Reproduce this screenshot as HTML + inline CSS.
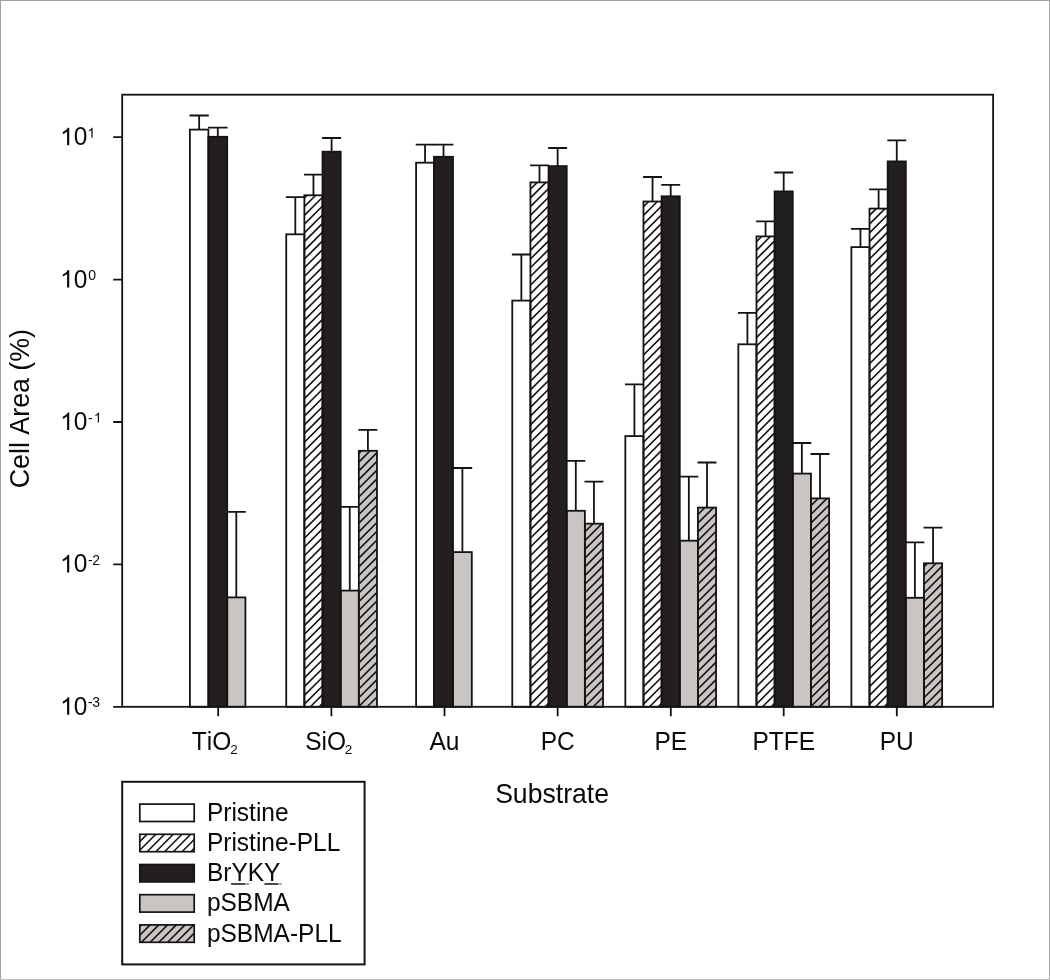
<!DOCTYPE html>
<html><head><meta charset="utf-8"><style>
html,body{margin:0;padding:0;background:#fff;}
body{width:1050px;height:980px;overflow:hidden;font-family:"Liberation Sans",sans-serif;}
svg{display:block;will-change:transform;}
text{font-kerning:none;}
</style></head><body>
<svg width="1050" height="980" viewBox="0 0 1050 980">
<defs>

</defs>
<rect width="1050" height="980" fill="#fff"/><rect x="0" y="0" width="1050" height="1" fill="#a0a0a0"/><rect x="0" y="0" width="1" height="980" fill="#a0a0a0"/><rect x="1049" y="0" width="1" height="980" fill="#a3a3a3"/><rect x="0" y="979" width="1050" height="1" fill="#c0c0c0"/>
<g fill="none" stroke="#151213" stroke-width="1.8"><path d="M199.15 129.6V115.5M189.5 115.5H208.8"/><path d="M217.8 136.8V127.6M208 127.6H227.6"/><path d="M236.3 597.4V511.9M226.8 511.9H245.8"/><path d="M295.3 234.3V197.1M285.83 197.1H304.77"/><path d="M313.45 195.3V174.7M303.98 174.7H322.93"/><path d="M331.6 151.7V138M322.13 138H341.07"/><path d="M349.75 590.6V506.9M340.28 506.9H359.23"/><path d="M367.9 450.8V429.8M358.43 429.8H377.38"/><path d="M425.05 162.7V144.7M415.7 144.7H434.4"/><path d="M443.5 156.8V144.7M433.6 144.7H453.4"/><path d="M462.4 552.1V468M452.6 468H472.2"/><path d="M521.35 300.6V254.5M511.88 254.5H530.82"/><path d="M539.5 182.4V165.3M530.02 165.3H548.97"/><path d="M557.65 166.1V148M548.17 148H567.12"/><path d="M575.8 510.8V460.8M566.33 460.8H585.27"/><path d="M593.95 523.7V481.7M584.48 481.7H603.42"/><path d="M634.4 436.1V384.4M624.93 384.4H643.88"/><path d="M652.55 201.5V177M643.08 177H662.02"/><path d="M670.7 196.3V184.9M661.23 184.9H680.18"/><path d="M688.85 540.7V476.7M679.38 476.7H698.33"/><path d="M707 507.6V462.5M697.53 462.5H716.48"/><path d="M747.4 344.3V312.8M737.93 312.8H756.88"/><path d="M765.55 236.4V221.4M756.08 221.4H775.02"/><path d="M783.7 191.4V172.5M774.23 172.5H793.18"/><path d="M801.85 473.6V443M792.38 443H811.33"/><path d="M820 498.4V454M810.53 454H829.48"/><path d="M860.45 247.1V228.9M850.98 228.9H869.92"/><path d="M878.6 208.6V189.3M869.12 189.3H888.07"/><path d="M896.75 161.4V140.4M887.27 140.4H906.23"/><path d="M914.9 597.8V542.4M905.43 542.4H924.38"/><path d="M933.05 563.3V527.6M923.58 527.6H942.52"/></g>
<g><rect x="189.9" y="129.6" width="18.5" height="577.2" fill="#ffffff"/><rect x="208.4" y="136.8" width="18.8" height="570" fill="#231f20"/><rect x="227.2" y="597.4" width="18.2" height="109.4" fill="#c9c5c3"/><rect x="286.23" y="234.3" width="18.15" height="472.5" fill="#ffffff"/><rect x="304.38" y="195.3" width="18.15" height="511.5" fill="#fff"/><rect x="322.53" y="151.7" width="18.15" height="555.1" fill="#231f20"/><rect x="340.68" y="590.6" width="18.15" height="116.2" fill="#c9c5c3"/><rect x="358.83" y="450.8" width="18.15" height="256" fill="#c9c5c3"/><rect x="416.1" y="162.7" width="17.9" height="544.1" fill="#ffffff"/><rect x="434" y="156.8" width="19" height="550" fill="#231f20"/><rect x="453" y="552.1" width="18.8" height="154.7" fill="#c9c5c3"/><rect x="512.27" y="300.6" width="18.15" height="406.2" fill="#ffffff"/><rect x="530.42" y="182.4" width="18.15" height="524.4" fill="#fff"/><rect x="548.57" y="166.1" width="18.15" height="540.7" fill="#231f20"/><rect x="566.73" y="510.8" width="18.15" height="196" fill="#c9c5c3"/><rect x="584.88" y="523.7" width="18.15" height="183.1" fill="#c9c5c3"/><rect x="625.33" y="436.1" width="18.15" height="270.7" fill="#ffffff"/><rect x="643.48" y="201.5" width="18.15" height="505.3" fill="#fff"/><rect x="661.62" y="196.3" width="18.15" height="510.5" fill="#231f20"/><rect x="679.78" y="540.7" width="18.15" height="166.1" fill="#c9c5c3"/><rect x="697.93" y="507.6" width="18.15" height="199.2" fill="#c9c5c3"/><rect x="738.33" y="344.3" width="18.15" height="362.5" fill="#ffffff"/><rect x="756.48" y="236.4" width="18.15" height="470.4" fill="#fff"/><rect x="774.62" y="191.4" width="18.15" height="515.4" fill="#231f20"/><rect x="792.78" y="473.6" width="18.15" height="233.2" fill="#c9c5c3"/><rect x="810.93" y="498.4" width="18.15" height="208.4" fill="#c9c5c3"/><rect x="851.38" y="247.1" width="18.15" height="459.7" fill="#ffffff"/><rect x="869.52" y="208.6" width="18.15" height="498.2" fill="#fff"/><rect x="887.67" y="161.4" width="18.15" height="545.4" fill="#231f20"/><rect x="905.83" y="597.8" width="18.15" height="109" fill="#c9c5c3"/><rect x="923.98" y="563.3" width="18.15" height="143.5" fill="#c9c5c3"/></g>
<g><rect x="139.8" y="804.1" width="54.4" height="17.4" fill="#ffffff"/><rect x="139.8" y="834.3" width="54.4" height="17.4" fill="#fff"/><rect x="139.8" y="864.5" width="54.4" height="17.4" fill="#231f20"/><rect x="139.8" y="894.7" width="54.4" height="17.4" fill="#c9c5c3"/><rect x="139.8" y="924.9" width="54.4" height="17.4" fill="#c9c5c3"/></g>
<path d="M304.38 197.94L307.02 195.30M304.38 206.67L315.75 195.30M304.38 215.40L322.53 197.25M304.38 224.12L322.53 205.97M304.38 232.85L322.53 214.70M304.38 241.58L322.53 223.43M304.38 250.31L322.53 232.16M304.38 259.03L322.53 240.88M304.38 267.76L322.53 249.61M304.38 276.49L322.53 258.34M304.38 285.21L322.53 267.06M304.38 293.94L322.53 275.79M304.38 302.67L322.53 284.52M304.38 311.39L322.53 293.24M304.38 320.12L322.53 301.97M304.38 328.85L322.53 310.70M304.38 337.58L322.53 319.43M304.38 346.30L322.53 328.15M304.38 355.03L322.53 336.88M304.38 363.76L322.53 345.61M304.38 372.48L322.53 354.33M304.38 381.21L322.53 363.06M304.38 389.94L322.53 371.79M304.38 398.66L322.53 380.51M304.38 407.39L322.53 389.24M304.38 416.12L322.53 397.97M304.38 424.85L322.53 406.70M304.38 433.57L322.53 415.42M304.38 442.30L322.53 424.15M304.38 451.03L322.53 432.88M304.38 459.75L322.53 441.60M304.38 468.48L322.53 450.33M304.38 477.21L322.53 459.06M304.38 485.93L322.53 467.78M304.38 494.66L322.53 476.51M304.38 503.39L322.53 485.24M304.38 512.12L322.53 493.97M304.38 520.84L322.53 502.69M304.38 529.57L322.53 511.42M304.38 538.30L322.53 520.15M304.38 547.02L322.53 528.87M304.38 555.75L322.53 537.60M304.38 564.48L322.53 546.33M304.38 573.20L322.53 555.05M304.38 581.93L322.53 563.78M304.38 590.66L322.53 572.51M304.38 599.39L322.53 581.24M304.38 608.11L322.53 589.96M304.38 616.84L322.53 598.69M304.38 625.57L322.53 607.42M304.38 634.29L322.53 616.14M304.38 643.02L322.53 624.87M304.38 651.75L322.53 633.60M304.38 660.47L322.53 642.32M304.38 669.20L322.53 651.05M304.38 677.93L322.53 659.78M304.38 686.66L322.53 668.51M304.38 695.38L322.53 677.23M304.38 704.11L322.53 685.96M310.41 706.80L322.53 694.69M319.14 706.80L322.53 703.41M358.83 453.38L361.40 450.80M358.83 462.10L370.13 450.80M358.83 470.83L376.98 452.68M358.83 479.56L376.98 461.41M358.83 488.28L376.98 470.13M358.83 497.01L376.98 478.86M358.83 505.74L376.98 487.59M358.83 514.47L376.98 496.32M358.83 523.19L376.98 505.04M358.83 531.92L376.98 513.77M358.83 540.65L376.98 522.50M358.83 549.37L376.98 531.22M358.83 558.10L376.98 539.95M358.83 566.83L376.98 548.68M358.83 575.55L376.98 557.40M358.83 584.28L376.98 566.13M358.83 593.01L376.98 574.86M358.83 601.74L376.98 583.59M358.83 610.46L376.98 592.31M358.83 619.19L376.98 601.04M358.83 627.92L376.98 609.77M358.83 636.64L376.98 618.49M358.83 645.37L376.98 627.22M358.83 654.10L376.98 635.95M358.83 662.82L376.98 644.67M358.83 671.55L376.98 653.40M358.83 680.28L376.98 662.13M358.83 689.01L376.98 670.86M358.83 697.73L376.98 679.58M358.83 706.46L376.98 688.31M367.21 706.80L376.98 697.04M375.94 706.80L376.98 705.76M530.42 189.22L537.24 182.40M530.42 197.94L545.97 182.40M530.42 206.67L548.57 188.52M530.42 215.40L548.57 197.25M530.42 224.12L548.57 205.98M530.42 232.85L548.57 214.70M530.42 241.58L548.57 223.43M530.42 250.31L548.57 232.16M530.42 259.03L548.57 240.88M530.42 267.76L548.57 249.61M530.42 276.49L548.57 258.34M530.42 285.21L548.57 267.06M530.42 293.94L548.57 275.79M530.42 302.67L548.57 284.52M530.42 311.39L548.57 293.24M530.42 320.12L548.57 301.97M530.42 328.85L548.57 310.70M530.42 337.58L548.57 319.43M530.42 346.30L548.57 328.15M530.42 355.03L548.57 336.88M530.42 363.76L548.57 345.61M530.42 372.48L548.57 354.33M530.42 381.21L548.57 363.06M530.42 389.94L548.57 371.79M530.42 398.66L548.57 380.51M530.42 407.39L548.57 389.24M530.42 416.12L548.57 397.97M530.42 424.85L548.57 406.70M530.42 433.57L548.57 415.42M530.42 442.30L548.57 424.15M530.42 451.03L548.57 432.88M530.42 459.75L548.57 441.60M530.42 468.48L548.57 450.33M530.42 477.21L548.57 459.06M530.42 485.93L548.57 467.78M530.42 494.66L548.57 476.51M530.42 503.39L548.57 485.24M530.42 512.12L548.57 493.97M530.42 520.84L548.57 502.69M530.42 529.57L548.57 511.42M530.42 538.30L548.57 520.15M530.42 547.02L548.57 528.87M530.42 555.75L548.57 537.60M530.42 564.48L548.57 546.33M530.42 573.21L548.57 555.06M530.42 581.93L548.57 563.78M530.42 590.66L548.57 572.51M530.42 599.39L548.57 581.24M530.42 608.11L548.57 589.96M530.42 616.84L548.57 598.69M530.42 625.57L548.57 607.42M530.42 634.29L548.57 616.14M530.42 643.02L548.57 624.87M530.42 651.75L548.57 633.60M530.42 660.48L548.57 642.33M530.42 669.20L548.57 651.05M530.42 677.93L548.57 659.78M530.42 686.66L548.57 668.51M530.42 695.38L548.57 677.23M530.42 704.11L548.57 685.96M536.46 706.80L548.57 694.69M545.19 706.80L548.57 703.41M584.88 531.92L593.10 523.70M584.88 540.65L601.82 523.70M584.88 549.37L603.02 531.22M584.88 558.10L603.02 539.95M584.88 566.83L603.02 548.68M584.88 575.56L603.02 557.41M584.88 584.28L603.02 566.13M584.88 593.01L603.02 574.86M584.88 601.74L603.02 583.59M584.88 610.46L603.02 592.31M584.88 619.19L603.02 601.04M584.88 627.92L603.02 609.77M584.88 636.64L603.02 618.49M584.88 645.37L603.02 627.22M584.88 654.10L603.02 635.95M584.88 662.83L603.02 644.68M584.88 671.55L603.02 653.40M584.88 680.28L603.02 662.13M584.88 689.01L603.02 670.86M584.88 697.73L603.02 679.58M584.88 706.46L603.02 688.31M593.26 706.80L603.02 697.04M601.99 706.80L603.02 705.76M643.48 206.67L648.65 201.50M643.48 215.40L657.37 201.50M643.48 224.12L661.62 205.98M643.48 232.85L661.62 214.70M643.48 241.58L661.62 223.43M643.48 250.31L661.62 232.16M643.48 259.03L661.62 240.88M643.48 267.76L661.62 249.61M643.48 276.49L661.62 258.34M643.48 285.21L661.62 267.06M643.48 293.94L661.62 275.79M643.48 302.67L661.62 284.52M643.48 311.39L661.62 293.24M643.48 320.12L661.62 301.97M643.48 328.85L661.62 310.70M643.48 337.58L661.62 319.43M643.48 346.30L661.62 328.15M643.48 355.03L661.62 336.88M643.48 363.76L661.62 345.61M643.48 372.48L661.62 354.33M643.48 381.21L661.62 363.06M643.48 389.94L661.62 371.79M643.48 398.66L661.62 380.51M643.48 407.39L661.62 389.24M643.48 416.12L661.62 397.97M643.48 424.85L661.62 406.70M643.48 433.57L661.62 415.42M643.48 442.30L661.62 424.15M643.48 451.03L661.62 432.88M643.48 459.75L661.62 441.60M643.48 468.48L661.62 450.33M643.48 477.21L661.62 459.06M643.48 485.94L661.62 467.79M643.48 494.66L661.62 476.51M643.48 503.39L661.62 485.24M643.48 512.12L661.62 493.97M643.48 520.84L661.62 502.69M643.48 529.57L661.62 511.42M643.48 538.30L661.62 520.15M643.48 547.02L661.62 528.87M643.48 555.75L661.62 537.60M643.48 564.48L661.62 546.33M643.48 573.21L661.62 555.06M643.48 581.93L661.62 563.78M643.48 590.66L661.62 572.51M643.48 599.39L661.62 581.24M643.48 608.11L661.62 589.96M643.48 616.84L661.62 598.69M643.48 625.57L661.62 607.42M643.48 634.29L661.62 616.14M643.48 643.02L661.62 624.87M643.48 651.75L661.62 633.60M643.48 660.48L661.62 642.33M643.48 669.20L661.62 651.05M643.48 677.93L661.62 659.78M643.48 686.66L661.62 668.51M643.48 695.38L661.62 677.23M643.48 704.11L661.62 685.96M649.51 706.80L661.62 694.69M658.24 706.80L661.62 703.41M697.93 514.47L704.79 507.60M697.93 523.19L713.52 507.60M697.93 531.92L716.08 513.77M697.93 540.65L716.08 522.50M697.93 549.37L716.08 531.22M697.93 558.10L716.08 539.95M697.93 566.83L716.08 548.68M697.93 575.56L716.08 557.41M697.93 584.28L716.08 566.13M697.93 593.01L716.08 574.86M697.93 601.74L716.08 583.59M697.93 610.46L716.08 592.31M697.93 619.19L716.08 601.04M697.93 627.92L716.08 609.77M697.93 636.64L716.08 618.49M697.93 645.37L716.08 627.22M697.93 654.10L716.08 635.95M697.93 662.83L716.08 644.68M697.93 671.55L716.08 653.40M697.93 680.28L716.08 662.13M697.93 689.01L716.08 670.86M697.93 697.73L716.08 679.58M697.93 706.46L716.08 688.31M706.31 706.80L716.08 697.04M715.04 706.80L716.08 705.76M756.48 241.58L761.65 236.40M756.48 250.31L770.38 236.40M756.48 259.03L774.62 240.88M756.48 267.76L774.62 249.61M756.48 276.49L774.62 258.34M756.48 285.21L774.62 267.06M756.48 293.94L774.62 275.79M756.48 302.67L774.62 284.52M756.48 311.40L774.62 293.25M756.48 320.12L774.62 301.97M756.48 328.85L774.62 310.70M756.48 337.58L774.62 319.43M756.48 346.30L774.62 328.15M756.48 355.03L774.62 336.88M756.48 363.76L774.62 345.61M756.48 372.48L774.62 354.33M756.48 381.21L774.62 363.06M756.48 389.94L774.62 371.79M756.48 398.67L774.62 380.52M756.48 407.39L774.62 389.24M756.48 416.12L774.62 397.97M756.48 424.85L774.62 406.70M756.48 433.57L774.62 415.42M756.48 442.30L774.62 424.15M756.48 451.03L774.62 432.88M756.48 459.75L774.62 441.60M756.48 468.48L774.62 450.33M756.48 477.21L774.62 459.06M756.48 485.94L774.62 467.79M756.48 494.66L774.62 476.51M756.48 503.39L774.62 485.24M756.48 512.12L774.62 493.97M756.48 520.84L774.62 502.69M756.48 529.57L774.62 511.42M756.48 538.30L774.62 520.15M756.48 547.02L774.62 528.87M756.48 555.75L774.62 537.60M756.48 564.48L774.62 546.33M756.48 573.21L774.62 555.06M756.48 581.93L774.62 563.78M756.48 590.66L774.62 572.51M756.48 599.39L774.62 581.24M756.48 608.11L774.62 589.96M756.48 616.84L774.62 598.69M756.48 625.57L774.62 607.42M756.48 634.29L774.62 616.14M756.48 643.02L774.62 624.87M756.48 651.75L774.62 633.60M756.48 660.48L774.62 642.33M756.48 669.20L774.62 651.05M756.48 677.93L774.62 659.78M756.48 686.66L774.62 668.51M756.48 695.38L774.62 677.23M756.48 704.11L774.62 685.96M762.51 706.80L774.62 694.69M771.24 706.80L774.62 703.41M810.93 505.74L818.26 498.40M810.93 514.47L826.99 498.40M810.93 523.19L829.08 505.04M810.93 531.92L829.08 513.77M810.93 540.65L829.08 522.50M810.93 549.37L829.08 531.22M810.93 558.10L829.08 539.95M810.93 566.83L829.08 548.68M810.93 575.56L829.08 557.41M810.93 584.28L829.08 566.13M810.93 593.01L829.08 574.86M810.93 601.74L829.08 583.59M810.93 610.46L829.08 592.31M810.93 619.19L829.08 601.04M810.93 627.92L829.08 609.77M810.93 636.64L829.08 618.49M810.93 645.37L829.08 627.22M810.93 654.10L829.08 635.95M810.93 662.83L829.08 644.68M810.93 671.55L829.08 653.40M810.93 680.28L829.08 662.13M810.93 689.01L829.08 670.86M810.93 697.73L829.08 679.58M810.93 706.46L829.08 688.31M819.31 706.80L829.08 697.04M828.04 706.80L829.08 705.76M869.52 215.40L876.32 208.60M869.52 224.13L885.05 208.60M869.52 232.85L887.67 214.70M869.52 241.58L887.67 223.43M869.52 250.31L887.67 232.16M869.52 259.03L887.67 240.88M869.52 267.76L887.67 249.61M869.52 276.49L887.67 258.34M869.52 285.21L887.67 267.06M869.52 293.94L887.67 275.79M869.52 302.67L887.67 284.52M869.52 311.40L887.67 293.25M869.52 320.12L887.67 301.97M869.52 328.85L887.67 310.70M869.52 337.58L887.67 319.43M869.52 346.30L887.67 328.15M869.52 355.03L887.67 336.88M869.52 363.76L887.67 345.61M869.52 372.48L887.67 354.33M869.52 381.21L887.67 363.06M869.52 389.94L887.67 371.79M869.52 398.67L887.67 380.52M869.52 407.39L887.67 389.24M869.52 416.12L887.67 397.97M869.52 424.85L887.67 406.70M869.52 433.57L887.67 415.42M869.52 442.30L887.67 424.15M869.52 451.03L887.67 432.88M869.52 459.75L887.67 441.60M869.52 468.48L887.67 450.33M869.52 477.21L887.67 459.06M869.52 485.94L887.67 467.79M869.52 494.66L887.67 476.51M869.52 503.39L887.67 485.24M869.52 512.12L887.67 493.97M869.52 520.84L887.67 502.69M869.52 529.57L887.67 511.42M869.52 538.30L887.67 520.15M869.52 547.02L887.67 528.87M869.52 555.75L887.67 537.60M869.52 564.48L887.67 546.33M869.52 573.21L887.67 555.06M869.52 581.93L887.67 563.78M869.52 590.66L887.67 572.51M869.52 599.39L887.67 581.24M869.52 608.11L887.67 589.96M869.52 616.84L887.67 598.69M869.52 625.57L887.67 607.42M869.52 634.29L887.67 616.14M869.52 643.02L887.67 624.87M869.52 651.75L887.67 633.60M869.52 660.48L887.67 642.33M869.52 669.20L887.67 651.05M869.52 677.93L887.67 659.78M869.52 686.66L887.67 668.51M869.52 695.38L887.67 677.23M869.52 704.11L887.67 685.96M875.56 706.80L887.67 694.69M884.29 706.80L887.67 703.41M923.98 566.83L927.50 563.30M923.98 575.55L936.23 563.30M923.98 584.28L942.12 566.13M923.98 593.01L942.12 574.86M923.98 601.74L942.12 583.59M923.98 610.46L942.12 592.31M923.98 619.19L942.12 601.04M923.98 627.92L942.12 609.77M923.98 636.64L942.12 618.49M923.98 645.37L942.12 627.22M923.98 654.10L942.12 635.95M923.98 662.83L942.12 644.68M923.98 671.55L942.12 653.40M923.98 680.28L942.12 662.13M923.98 689.01L942.12 670.86M923.98 697.73L942.12 679.58M923.98 706.46L942.12 688.31M932.36 706.80L942.12 697.04M941.09 706.80L942.12 705.76M139.80 841.57L147.07 834.30M139.80 850.30L155.80 834.30M147.13 851.70L164.53 834.30M155.85 851.70L173.25 834.30M164.58 851.70L181.98 834.30M173.31 851.70L190.71 834.30M182.04 851.70L194.20 839.54M190.76 851.70L194.20 848.26M139.80 926.49L141.39 924.90M139.80 935.22L150.12 924.90M141.45 942.30L158.85 924.90M150.18 942.30L167.58 924.90M158.90 942.30L176.30 924.90M167.63 942.30L185.03 924.90M176.36 942.30L193.76 924.90M185.08 942.30L194.20 933.18M193.81 942.30L194.20 941.91" stroke="#151213" stroke-width="1.6" fill="none"/>
<g><rect x="189.9" y="129.6" width="18.5" height="577.2" fill="none" stroke="#151213" stroke-width="1.8"/><rect x="208.4" y="136.8" width="18.8" height="570" fill="none" stroke="#151213" stroke-width="1.8"/><rect x="227.2" y="597.4" width="18.2" height="109.4" fill="none" stroke="#151213" stroke-width="1.8"/><rect x="286.23" y="234.3" width="18.15" height="472.5" fill="none" stroke="#151213" stroke-width="1.8"/><rect x="304.38" y="195.3" width="18.15" height="511.5" fill="none" stroke="#151213" stroke-width="1.8"/><rect x="322.53" y="151.7" width="18.15" height="555.1" fill="none" stroke="#151213" stroke-width="1.8"/><rect x="340.68" y="590.6" width="18.15" height="116.2" fill="none" stroke="#151213" stroke-width="1.8"/><rect x="358.83" y="450.8" width="18.15" height="256" fill="none" stroke="#151213" stroke-width="1.8"/><rect x="416.1" y="162.7" width="17.9" height="544.1" fill="none" stroke="#151213" stroke-width="1.8"/><rect x="434" y="156.8" width="19" height="550" fill="none" stroke="#151213" stroke-width="1.8"/><rect x="453" y="552.1" width="18.8" height="154.7" fill="none" stroke="#151213" stroke-width="1.8"/><rect x="512.27" y="300.6" width="18.15" height="406.2" fill="none" stroke="#151213" stroke-width="1.8"/><rect x="530.42" y="182.4" width="18.15" height="524.4" fill="none" stroke="#151213" stroke-width="1.8"/><rect x="548.57" y="166.1" width="18.15" height="540.7" fill="none" stroke="#151213" stroke-width="1.8"/><rect x="566.73" y="510.8" width="18.15" height="196" fill="none" stroke="#151213" stroke-width="1.8"/><rect x="584.88" y="523.7" width="18.15" height="183.1" fill="none" stroke="#151213" stroke-width="1.8"/><rect x="625.33" y="436.1" width="18.15" height="270.7" fill="none" stroke="#151213" stroke-width="1.8"/><rect x="643.48" y="201.5" width="18.15" height="505.3" fill="none" stroke="#151213" stroke-width="1.8"/><rect x="661.62" y="196.3" width="18.15" height="510.5" fill="none" stroke="#151213" stroke-width="1.8"/><rect x="679.78" y="540.7" width="18.15" height="166.1" fill="none" stroke="#151213" stroke-width="1.8"/><rect x="697.93" y="507.6" width="18.15" height="199.2" fill="none" stroke="#151213" stroke-width="1.8"/><rect x="738.33" y="344.3" width="18.15" height="362.5" fill="none" stroke="#151213" stroke-width="1.8"/><rect x="756.48" y="236.4" width="18.15" height="470.4" fill="none" stroke="#151213" stroke-width="1.8"/><rect x="774.62" y="191.4" width="18.15" height="515.4" fill="none" stroke="#151213" stroke-width="1.8"/><rect x="792.78" y="473.6" width="18.15" height="233.2" fill="none" stroke="#151213" stroke-width="1.8"/><rect x="810.93" y="498.4" width="18.15" height="208.4" fill="none" stroke="#151213" stroke-width="1.8"/><rect x="851.38" y="247.1" width="18.15" height="459.7" fill="none" stroke="#151213" stroke-width="1.8"/><rect x="869.52" y="208.6" width="18.15" height="498.2" fill="none" stroke="#151213" stroke-width="1.8"/><rect x="887.67" y="161.4" width="18.15" height="545.4" fill="none" stroke="#151213" stroke-width="1.8"/><rect x="905.83" y="597.8" width="18.15" height="109" fill="none" stroke="#151213" stroke-width="1.8"/><rect x="923.98" y="563.3" width="18.15" height="143.5" fill="none" stroke="#151213" stroke-width="1.8"/></g>
<g><rect x="122.2" y="781.8" width="242.4" height="182.6" fill="none" stroke="#151213" stroke-width="2"/><rect x="139.8" y="804.1" width="54.4" height="17.4" fill="none" stroke="#151213" stroke-width="1.7"/><rect x="139.8" y="834.3" width="54.4" height="17.4" fill="none" stroke="#151213" stroke-width="1.7"/><rect x="139.8" y="864.5" width="54.4" height="17.4" fill="none" stroke="#151213" stroke-width="1.7"/><rect x="139.8" y="894.7" width="54.4" height="17.4" fill="none" stroke="#151213" stroke-width="1.7"/><rect x="139.8" y="924.9" width="54.4" height="17.4" fill="none" stroke="#151213" stroke-width="1.7"/></g>
<rect x="122.2" y="94.7" width="870.9" height="612.1" fill="none" stroke="#151213" stroke-width="1.8"/>
<path d="M113.2 137.2H122.2M113.2 279.6H122.2M113.2 422H122.2M113.2 564.4H122.2M113.2 706.8H122.2M218.2 706.8V716.3M331.4 706.8V716.3M444.5 706.8V716.3M557.65 706.8V716.3M670.8 706.8V716.3M783.7 706.8V716.3M896.8 706.8V716.3" stroke="#151213" stroke-width="1.8" fill="none"/>
<g fill="#0a0a0a" font-family="Liberation Sans, sans-serif">
<path transform="translate(60.13 145.2) scale(0.011963 -0.011963)" d="M762 0H582V1147C539 1106 482 1065 412 1024C342 983 279 952 223 929V1103C322 1149 409 1205 484 1271C559 1337 612 1402 643 1466H762Z"/><text transform="translate(73.76 145.2) scale(1 1.03)" font-size="24.5">0</text><path transform="translate(87.4 137.8) scale(0.006836 -0.006836)" d="M762 0H582V1147C539 1106 482 1065 412 1024C342 983 279 952 223 929V1103C322 1149 409 1205 484 1271C559 1337 612 1402 643 1466H762Z"/><path transform="translate(60.13 287.6) scale(0.011963 -0.011963)" d="M762 0H582V1147C539 1106 482 1065 412 1024C342 983 279 952 223 929V1103C322 1149 409 1205 484 1271C559 1337 612 1402 643 1466H762Z"/><text transform="translate(73.76 287.6) scale(1 1.03)" font-size="24.5">0</text><text transform="translate(88.35 280.2) scale(1 1.03)" font-size="14">0</text><path transform="translate(60.13 430) scale(0.011963 -0.011963)" d="M762 0H582V1147C539 1106 482 1065 412 1024C342 983 279 952 223 929V1103C322 1149 409 1205 484 1271C559 1337 612 1402 643 1466H762Z"/><text transform="translate(73.76 430) scale(1 1.03)" font-size="24.5">0</text><text transform="translate(87.9 422.6) scale(1 1.03)" font-size="14">-</text><path transform="translate(93.8 422.6) scale(0.006836 -0.006836)" d="M762 0H582V1147C539 1106 482 1065 412 1024C342 983 279 952 223 929V1103C322 1149 409 1205 484 1271C559 1337 612 1402 643 1466H762Z"/><path transform="translate(60.13 572.4) scale(0.011963 -0.011963)" d="M762 0H582V1147C539 1106 482 1065 412 1024C342 983 279 952 223 929V1103C322 1149 409 1205 484 1271C559 1337 612 1402 643 1466H762Z"/><text transform="translate(73.76 572.4) scale(1 1.03)" font-size="24.5">0</text><text transform="translate(87.9 565) scale(1 1.03)" font-size="14">-</text><text transform="translate(92.35 565) scale(1 1.03)" font-size="14">2</text><path transform="translate(60.13 714.8) scale(0.011963 -0.011963)" d="M762 0H582V1147C539 1106 482 1065 412 1024C342 983 279 952 223 929V1103C322 1149 409 1205 484 1271C559 1337 612 1402 643 1466H762Z"/><text transform="translate(73.76 714.8) scale(1 1.03)" font-size="24.5">0</text><text transform="translate(87.9 707.4) scale(1 1.03)" font-size="14">-</text><text transform="translate(92.35 707.4) scale(1 1.03)" font-size="14">3</text>
<text transform="translate(191.75 749.6) scale(1 1.03)" font-size="24.5">TiO</text><text transform="translate(230.2 753.8) scale(1 1.0)" font-size="13.5">2</text><text transform="translate(305.2 749.6) scale(1 1.03)" font-size="24.5">SiO</text><text transform="translate(344.7 753.9) scale(1 1.0)" font-size="13.5">2</text><text transform="translate(444.5 749.6) scale(1 1.03)" font-size="24.5" text-anchor="middle">Au</text><text transform="translate(557.65 749.6) scale(1 1.03)" font-size="24.5" text-anchor="middle">PC</text><text transform="translate(670.85 749.6) scale(1 1.03)" font-size="24.5" text-anchor="middle">PE</text><text transform="translate(783.7 749.6) scale(1 1.03)" font-size="24.5" text-anchor="middle">PTFE</text><text transform="translate(896.7 749.6) scale(1 1.03)" font-size="24.5" text-anchor="middle">PU</text>
<text transform="translate(552.05 802.5) scale(1 1.03)" font-size="26.6" text-anchor="middle">Substrate</text>
<text transform="translate(29 408.6) rotate(-90) scale(1 1.04)" font-size="26.8" text-anchor="middle">Cell Area (%)</text>
<text transform="translate(206.9 820.8) scale(1 1.03)" font-size="24.5">Pristine</text><text transform="translate(206.9 851) scale(1 1.03)" font-size="24.5">Pristine-PLL</text><text transform="translate(206.9 881.2) scale(1 1.03)" font-size="24.5">BrYKY</text><path d="M231.1 884H245M264.4 884H278" stroke="#111" stroke-width="1.6"/><path d="M245 884H249.2M278 884H281.8" stroke="#8a8a8a" stroke-width="1.4"/><text transform="translate(206.9 911.4) scale(1 1.03)" font-size="24.5">pSBMA</text><text transform="translate(206.9 941.6) scale(1 1.03)" font-size="24.5">pSBMA-PLL</text>
</g>
</svg>
</body></html>
